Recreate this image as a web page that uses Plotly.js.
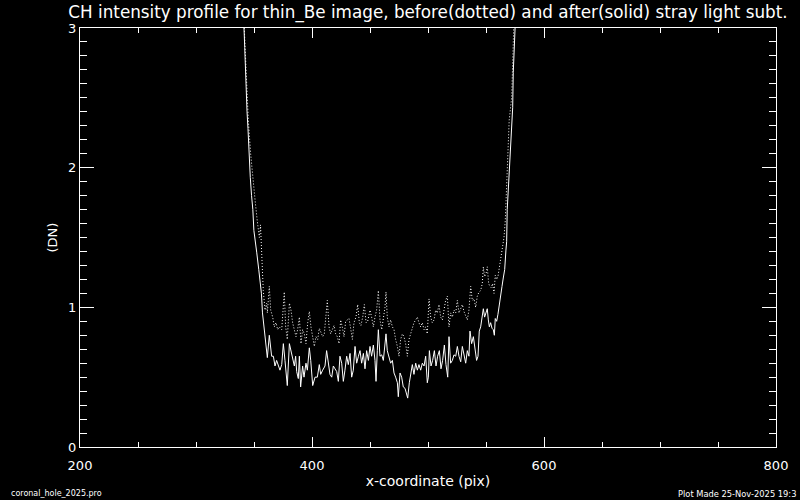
<!DOCTYPE html>
<html>
<head>
<meta charset="utf-8">
<script src="https://cdn.plot.ly/plotly-3.0.1.min.js"></script>
<style>html,body{margin:0;padding:0;background:#000;}</style>
</head>
<body>
<div id="chart" style="width:800px;height:500px;"></div>
<script>
// After stray light subtraction (solid)
var solidX = [335, 338.5, 341.4, 342, 342.9, 344, 344.8, 345.6, 346.8, 347.9, 349, 349.9, 351.3, 352.4, 354.1, 355.6, 356.4, 357.3, 358.5, 360,
  361.5, 363.2, 365.2, 366.7, 368.1, 369.5, 371, 372.4, 373.9, 375.3, 376.7, 378.2, 378.7, 380.5, 381.9, 383.3, 384.8, 385.9, 386.8, 388.2,
  389.1, 390.2, 391.9, 393.1, 394.8, 396, 397.7, 398.9, 400.6, 402.6, 404.6, 406.3, 407.5, 409.2, 411.2, 412.6, 414.1, 415.5, 417, 418.4,
  419.8, 421.3, 422.7, 424.1, 425.6, 427, 428.4, 429.9, 431.3, 432.8, 434.2, 435.6, 437.1, 438.5, 440, 441.4, 442.8, 444.3, 445.7, 447.1, 448.6,
  450, 451.4, 452.9, 454.3, 455.2, 456.3, 457.2, 458.6, 460.1, 461.5, 462.9, 463.8, 464.9, 466.4, 467.8, 469.3, 470.7, 472.1, 473.6, 474.4,
  475.9, 477.3, 478.7, 480.2, 481.6, 482.5, 483.9, 485.1, 486.5, 487.9, 489.4, 490.8, 492.2, 493.7, 495.1, 496.6, 498, 499.4, 500.3, 501.2,
  502.6, 504, 505.5, 506.9, 508.3, 509.8, 511.2, 512.6, 514.1, 515.5, 517, 518.1, 519.5, 521, 522.4, 523.9, 525.3, 526.7, 528.2, 529.6,
  531, 532.5, 533.9, 535.3,
  536.2, 537.6, 539.1, 540.5, 541.9, 543.1, 544.2, 545.4, 546.8, 547.7, 548.8, 550, 551.1, 552, 552.9, 554, 555.2, 556.3, 557.2, 558,
  559.2, 560.3, 561.5, 562.6, 563.8, 564.9, 566.1, 567.2, 567.8, 568.3, 569.5, 570.4, 571.3, 572.1, 573, 573.5, 574.4, 575.2, 576.5, 578];
var solidY = [3.6, 3.3, 3.0, 2.86, 2.59, 2.40, 2.28, 2.10, 1.93, 1.80, 1.70, 1.55, 1.47, 1.39, 1.27, 1.17, 1.10, 0.96, 0.86, 0.75,
  0.64, 0.80, 0.65, 0.65, 0.58, 0.62, 0.59, 0.55, 0.59, 0.74, 0.62, 0.50, 0.44, 0.74, 0.69, 0.62, 0.58, 0.65, 0.54, 0.49,
  0.65, 0.43, 0.58, 0.50, 0.60, 0.55, 0.71, 0.62, 0.44, 0.50, 0.50, 0.59, 0.52, 0.55, 0.58, 0.69, 0.61, 0.52, 0.50, 0.58,
  0.56, 0.54, 0.47, 0.65, 0.60, 0.47, 0.55, 0.65, 0.59, 0.67, 0.50, 0.55, 0.72, 0.60, 0.65, 0.69, 0.60, 0.67, 0.56, 0.69, 0.62,
  0.72, 0.65, 0.73, 0.62, 0.47, 0.69, 0.84, 0.65, 0.66, 0.62, 0.77, 0.81, 0.69, 0.65, 0.60, 0.62, 0.53, 0.50, 0.46, 0.36,
  0.53, 0.50, 0.43, 0.42, 0.38, 0.35, 0.46, 0.53, 0.59, 0.52, 0.60, 0.55, 0.59, 0.55, 0.60, 0.58, 0.65, 0.46, 0.50, 0.69,
  0.58, 0.62, 0.69, 0.58, 0.65, 0.69, 0.56, 0.62, 0.73, 0.59, 0.50, 0.79, 0.60, 0.62, 0.66, 0.65, 0.72, 0.65, 0.61, 0.72,
  0.67, 0.60, 0.69, 0.65,
  0.83, 0.74, 0.79, 0.72, 0.62, 0.65, 0.83, 0.86, 0.95, 0.99, 0.93, 0.97, 0.99, 0.91, 0.86, 0.89, 0.85, 0.84, 0.80, 0.92,
  0.90, 0.95, 1.03, 1.11, 1.15, 1.21, 1.27, 1.41, 1.47, 1.70, 1.88, 2.02, 2.15, 2.27, 2.43, 2.68, 2.89, 3.03, 3.3, 3.6];

// Before stray light subtraction (dotted)
var dotX = [335, 339, 341.5, 343.7, 345.1, 347.1, 348.8, 350.9, 352.8, 354.6, 355.6, 356.6,
  358.0, 359.5, 360.9, 361.5, 363.2, 364.4, 366.1, 367.5, 369, 370.4, 371.8, 373.9, 376.1, 377.3, 378.7, 380.5, 381.9, 383.3, 384.8, 386.2,
  387.6, 389.1, 390.5, 391.9, 393.4, 394.8, 396.3, 397.7, 399.1, 400.6, 402, 403.4, 404.9, 406.3, 407.8, 409.2, 410.6, 412.1, 413.2, 414.7,
  416.1, 417.5, 419, 420.4, 421.8, 423.3, 424.7, 426.1, 427.6, 429, 430.5, 431.9, 433.3, 434.8, 436.2, 437.9, 439.4, 440.8, 442.2, 443.7,
  445.1, 446.6, 448,
  450, 451.4, 452.9, 454.3, 455.7, 457.2, 458.6, 460.1, 461.5, 462.9, 463.8, 464.9, 466.4, 467.8, 469.3, 470.7, 472.1, 473.6, 475, 476.4,
  477.9, 479.3, 480.7, 482.2, 483.6, 485.1, 486.5, 487.9, 489.4, 490.8, 492.2, 493.7, 495.1, 496.6, 498, 499.4, 500.9, 502.3, 503.7, 505.2,
  506.6, 508, 509.5, 510.9, 512.4, 513.8, 515.2, 516.7, 518.1, 519.5, 521, 522.4, 523.9, 525.3, 526.7, 528.2, 529.6, 531, 532.5, 533.9,
  535.3, 536.8, 538.2, 539.7, 541.1, 542.5, 544,
  545.4, 546.8, 547.7, 548.8, 550, 551.1, 552.3, 553.4, 554.6, 555.7, 556.9, 558, 559.2, 560.3, 561.5, 562.6, 563.5,
  565.5, 566.6, 567.8, 569, 570, 572.1, 573, 573.5, 574.5, 576];
var dotY = [3.6, 3.3, 3.02, 2.59, 2.34, 2.10, 1.93, 1.77, 1.62, 1.50, 1.59, 1.34,
  1.12, 0.98, 1.03, 0.96, 1.15, 0.98, 0.93, 0.86, 0.89, 0.84, 0.86, 0.84, 1.11, 0.86, 0.77, 1.03, 0.98, 0.89, 0.84, 0.79,
  0.84, 0.93, 0.74, 0.84, 0.81, 0.74, 0.89, 0.97, 0.86, 0.77, 0.72, 0.79, 0.77, 0.85, 0.81, 0.79, 0.81, 0.96, 1.05, 0.86,
  0.81, 0.84, 0.87, 0.81, 0.79, 0.74, 0.91, 0.86, 0.79, 0.90, 0.91, 0.92, 0.85, 0.77, 0.89, 0.93, 1.02, 0.89, 0.87, 0.93,
  1.02, 0.89, 0.90,
  0.98, 0.93, 0.86, 0.93, 0.98, 1.12, 0.91, 0.84, 0.93, 1.00, 1.11, 0.93, 0.86, 0.91, 0.86, 0.84, 0.77, 0.72, 0.65, 0.77,
  0.81, 0.79, 0.74, 0.65, 0.77, 0.81, 0.86, 0.89, 0.91, 0.93, 0.89, 0.86, 0.89, 0.84, 0.86, 0.81, 1.06, 0.93, 0.89, 0.91,
  0.98, 0.96, 1.02, 0.93, 0.91, 0.98, 1.05, 1.08, 0.86, 0.96, 0.93, 0.98, 0.96, 1.05, 0.96, 0.99, 1.02, 0.97, 0.93, 0.91,
  0.98, 1.15, 1.05, 1.06, 1.00, 1.08, 1.11,
  1.12, 1.17, 1.29, 1.22, 1.24, 1.29, 1.17, 1.15, 1.14, 1.17, 1.10, 1.23, 1.20, 1.22, 1.29, 1.34, 1.39,
  1.50, 1.62, 1.86, 2.10, 2.34, 2.50, 2.70, 2.93, 3.2, 3.6];

var xTicks = [200, 400, 600, 800];
var yTicks = [0, 1, 2, 3];

var traces = [
  {x: dotX, y: dotY, type: 'scatter', mode: 'lines', name: 'before',
   line: {color: '#ffffff', width: 1, dash: '1px,2px'}, hoverinfo: 'skip'},
  {x: solidX, y: solidY, type: 'scatter', mode: 'lines', name: 'after',
   line: {color: '#ffffff', width: 1}, hoverinfo: 'skip'}
];

var axisCommon = {
  showline: true, linecolor: '#ffffff', linewidth: 1, mirror: 'ticks',
  ticks: 'inside', tickcolor: '#ffffff', tickwidth: 1,
  showgrid: false, zeroline: false,
  tickfont: {family: 'DejaVu Sans', size: 13, color: '#ffffff'}
};

var layout = {
  width: 800, height: 500,
  paper_bgcolor: '#000000', plot_bgcolor: '#000000',
  margin: {l: 80, r: 24, t: 28, b: 53},
  font: {family: 'DejaVu Sans', color: '#ffffff', size: 13},
  showlegend: false,
  title: {text: 'CH intensity profile for thin_Be image, before(dotted) and after(solid) stray light subt.',
          x: 0.5, xref: 'paper', xanchor: 'center', y: 0.976, yref: 'container', yanchor: 'middle',
          font: {family: 'DejaVu Sans', size: 16.8, color: '#ffffff'}},
  xaxis: Object.assign({}, axisCommon, {
    range: [200, 800], tickmode: 'array', tickvals: xTicks, ticktext: xTicks.map(String), ticklen: 10,
    ticklabelstandoff: 6,
    minor: {tick0: 200, dtick: 50, ticks: 'inside', ticklen: 5, tickcolor: '#ffffff', showgrid: false},
    title: {text: 'x-coordinate (pix)', font: {family: 'DejaVu Sans', size: 14, color: '#ffffff'}, standoff: 4}
  }),
  yaxis: Object.assign({}, axisCommon, {
    range: [0, 3], tickmode: 'array', tickvals: yTicks, ticktext: yTicks.map(String), ticklen: 14,
    minor: {tick0: 0, dtick: 0.1, ticks: 'inside', ticklen: 7, tickcolor: '#ffffff', showgrid: false},
    title: {text: '(DN)', font: {family: 'DejaVu Sans', size: 13, color: '#ffffff'}, standoff: 7}
  }),
  annotations: [
    {text: 'coronal_hole_2025.pro', xref: 'paper', yref: 'paper', x: -0.102, y: -0.112,
     xanchor: 'left', yanchor: 'middle', showarrow: false, font: {family: 'DejaVu Sans', size: 8, color: '#ffffff'}},
    {text: 'Plot Made 25-Nov-2025 19:3', xref: 'paper', yref: 'paper', x: 1.0316, y: -0.112,
     xanchor: 'right', yanchor: 'middle', showarrow: false, font: {family: 'DejaVu Sans', size: 8.3, color: '#ffffff'}}
  ]
};

Plotly.newPlot('chart', traces, layout, {displayModeBar: false, staticPlot: true});
</script>
</body>
</html>
